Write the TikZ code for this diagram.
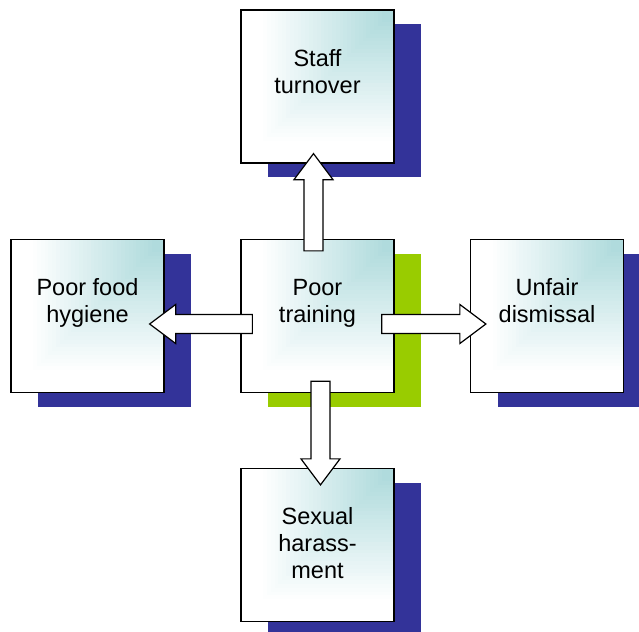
\documentclass[tikz,border=0pt]{standalone}
\usepackage{fontspec}
\setmainfont{Liberation Sans}
\usetikzlibrary{calc,shadows}
\definecolor{boxteal}{RGB}{176,219,221}
\definecolor{shadownavy}{RGB}{51,51,153}
\definecolor{shadowgreen}{RGB}{153,204,0}
\newcommand{\blockarrow}[2]{%
	\coordinate (tail) at #1;
	\coordinate (tip) at #2;
	\coordinate (neck) at ($(tip)!26pt!(tail)$);
	\draw[blockarrow] ($(tail)!9.5pt!90:(tip)$) -- ($(neck)!9.5pt!90:(tip)$) -- ($(neck)!19.5pt!90:(tip)$) -- (tip) -- ($(neck)!19.5pt!-90:(tip)$) -- ($(neck)!9.5pt!-90:(tip)$) -- ($(tail)!9.5pt!-90:(tip)$) -- cycle;}

\begin{document}
\begin{tikzpicture}[x=1pt, y=-1pt,
		box/.style={draw, fill=white, line width=1.3pt, minimum width=153pt, minimum height=153pt,
			general shadow={fill=#1, shadow xshift=27pt, shadow yshift=-14pt},
			% teal glow out of the top right corner
			path picture={\foreach \k in {0,...,32}{
				\pgfmathsetlengthmacro{\side}{153pt*(0.88-0.025*\k)}
				\pgfmathtruncatemacro{\tint}{100*\k/32}
				\fill[boxteal!\tint!white] (path picture bounding box.north east) rectangle ++(-\side,-\side);}}},
		box/.default=shadownavy,
		boxtext/.style={align=center, anchor=base, inner sep=0pt, font=\fontsize{23.5}{27}\selectfont},
		blockarrow/.style={draw, fill=white, line width=1.2pt, line join=miter}]
			%%%%% START %%%%%
			\useasboundingbox (0, 0) rectangle (639, 631);
			
			\node[box] (staff) at (317.5, 86.5) {};
			\node[box] (hygiene) at (87.5, 316) {};
			\node[box=shadowgreen] (train) at (317.5, 316) {};
			\node[box] (dismissal) at (547, 316) {};
			\node[box] (harass) at (317.5, 545) {};
			
			% base sits on the last line
			\node[boxtext] (stafftext) at ([yshift=-84pt]staff.north) {Staff\\turnover};
			\node[boxtext] (hygienetext) at ([yshift=-84pt]hygiene.north) {Poor food\\hygiene};
			\node[boxtext] (traintext) at ([yshift=-84pt]train.north) {Poor\\training};
			\node[boxtext] (dismissaltext) at ([yshift=-84pt]dismissal.north) {Unfair\\dismissal};
			\node[boxtext] (harasstext) at ([yshift=-111pt]harass.north) {Sexual\\harass-\\ment};
			
			\blockarrow{([shift={(-4pt,-12pt)}]train.north)}{([shift={(-4pt,10pt)}]staff.south)}
			\blockarrow{([shift={(12pt,-8pt)}]train.west)}{([shift={(-15pt,-8pt)}]hygiene.east)}
			\blockarrow{([shift={(-13pt,-8pt)}]train.east)}{([shift={(16pt,-8pt)}]dismissal.west)}
			\blockarrow{([shift={(3pt,12pt)}]train.south)}{([shift={(3pt,-17pt)}]harass.north)}
			
			%%%%% END %%%%%
\end{tikzpicture}
\end{document}
